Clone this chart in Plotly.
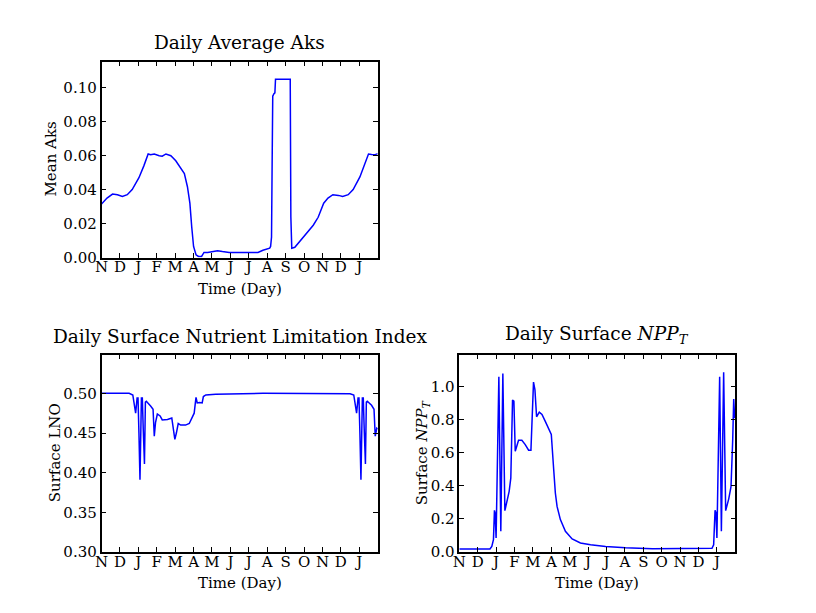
import plotly.graph_objects as go

# month tick labels, one tick every 30 days starting in November
month_labels = ["N", "D", "J", "F", "M", "A", "M", "J", "J", "A", "S", "O", "N", "D", "J"]
month_ticks = [30 * i for i in range(len(month_labels))]

# Daily Average Aks
aks_day = [0, 9, 18, 26, 34, 42, 50, 61, 69, 76, 80, 86, 94, 99, 105, 113, 121, 129,
           135, 140, 144, 147, 150, 154, 158, 163, 167, 173, 181, 189, 197, 208, 236,
           255, 263, 274, 275.5, 277, 278, 279, 281, 282.5, 283.5, 306.5, 307.5, 308.5,
           310, 315, 323, 334, 345, 353, 362, 369, 377, 386, 393, 402, 410, 421, 429,
           435, 440, 445, 450]
aks_val = [0.0315, 0.035, 0.0374, 0.037, 0.036, 0.037, 0.040, 0.047, 0.054, 0.061,
           0.0605, 0.061, 0.060, 0.0597, 0.061, 0.060, 0.057, 0.053, 0.0495, 0.0417,
           0.032, 0.018, 0.0065, 0.0016, 0.0006, 0.0006, 0.003, 0.003, 0.0037, 0.004,
           0.0035, 0.003, 0.003, 0.003, 0.0043, 0.0055, 0.0065, 0.012, 0.055, 0.095,
           0.0965, 0.097, 0.105, 0.105, 0.105, 0.024, 0.0055, 0.006, 0.0094, 0.0143,
           0.019, 0.0237, 0.032, 0.035, 0.037, 0.0366, 0.036, 0.037, 0.040, 0.0475,
           0.0554, 0.061, 0.0607, 0.0605, 0.0612]

# Daily Surface Nutrient Limitation Index
lno_day = [0, 45, 51, 54.5, 55.6, 58, 59.5, 61, 62.7, 65, 66.5, 68, 70, 71.5, 73, 80,
           84, 86, 88, 91, 95.5, 99, 107.5, 114.5, 117, 119.5, 122, 125, 129, 137, 143,
           146, 148, 151, 153, 154, 156, 160, 164, 166, 170, 186, 263, 405, 411, 414.5,
           415.6, 418, 419.5, 421, 422.7, 425, 426.5, 428, 430, 431.5, 433, 440, 444,
           446, 448.5, 450]
lno_val = [0.500, 0.500, 0.498, 0.484, 0.475, 0.494, 0.494, 0.450, 0.391, 0.494, 0.494,
           0.455, 0.411, 0.489, 0.490, 0.484, 0.480, 0.446, 0.463, 0.474, 0.4716, 0.4665,
           0.467, 0.469, 0.455, 0.442, 0.450, 0.462, 0.460, 0.460, 0.462, 0.4674, 0.471,
           0.475, 0.4886, 0.495, 0.488, 0.4886, 0.488, 0.496, 0.498, 0.499, 0.500, 0.4996,
           0.498, 0.484, 0.475, 0.494, 0.494, 0.450, 0.391, 0.494, 0.494, 0.455, 0.411,
           0.489, 0.490, 0.485, 0.480, 0.446, 0.456, 0.455]

# Daily Surface NPP_T
npp_day = [0, 50, 53, 55.7, 57.3, 58.4, 60, 64.5, 67.7, 71, 74.3, 77.6, 81.3, 84, 86.8,
           89, 91.2, 96.6, 102, 107.5, 113, 116.8, 119, 121, 123.3, 126, 130.4, 134.8,
           140.2, 145.7, 150, 153.9, 156.6, 159.4, 164.8, 173, 184, 197.5, 214, 238.5,
           271, 315, 391, 412, 414.7, 417, 418.5, 420, 424.5, 427.3, 431, 434.3, 439.2,
           443, 445.8, 447.4, 449]
npp_val = [0.018, 0.018, 0.034, 0.075, 0.252, 0.236, 0.085, 1.06, 0.125, 1.08, 0.25,
           0.307, 0.367, 0.448, 0.919, 0.913, 0.61, 0.676, 0.676, 0.65, 0.616, 0.616,
           0.882, 1.028, 0.983, 0.818, 0.846, 0.832, 0.79, 0.75, 0.711, 0.499, 0.357,
           0.276, 0.196, 0.125, 0.079, 0.0545, 0.044, 0.034, 0.026, 0.020, 0.020, 0.022,
           0.044, 0.252, 0.236, 0.085, 1.06, 0.125, 1.088, 0.25, 0.32, 0.395, 0.68,
           0.925, 0.81]

font_name = "DejaVu Serif"
blue = "#0000ff"
W, H = 816, 613
OFF = 8  # page body margin

fig = go.Figure()
fig.add_trace(go.Scatter(x=aks_day, y=aks_val, mode="lines", line=dict(color=blue, width=1.5),
                         xaxis="x", yaxis="y", showlegend=False))
fig.add_trace(go.Scatter(x=lno_day, y=lno_val, mode="lines", line=dict(color=blue, width=1.5),
                         xaxis="x2", yaxis="y2", showlegend=False))
fig.add_trace(go.Scatter(x=npp_day, y=npp_val, mode="lines", line=dict(color=blue, width=1.5),
                         xaxis="x3", yaxis="y3", showlegend=False))

def x_axis(dom, anchor):
    return dict(domain=dom, anchor=anchor, range=[0, 450], tickvals=month_ticks,
                ticktext=month_labels, ticks="inside", ticklen=5, tickcolor="black",
                showline=True, linecolor="black", linewidth=1.5, mirror="ticks",
                showgrid=False, zeroline=False, tickfont=dict(size=15), automargin=False,
                ticklabelstandoff=-5)

def y_axis(dom, anchor, rng, vals, fmt):
    return dict(domain=dom, anchor=anchor, range=rng, tickvals=vals, tickformat=fmt,
                ticks="inside", ticklen=5, tickcolor="black", showline=True,
                linecolor="black", linewidth=1.5, mirror="ticks", showgrid=False,
                zeroline=False, tickfont=dict(size=15), automargin=False)

def px_x(a, b):
    return [(a - OFF) / W, (b - OFF) / W]

def px_y(top_px, bot_px):
    return [1 - (bot_px - OFF) / H, 1 - (top_px - OFF) / H]

top = px_y(61.5, 257.5)
bot = px_y(354.5, 552)
left = px_x(101.5, 377.7)
right = px_x(459.3, 735.3)

fig.update_layout(
    width=W, height=H,
    margin=dict(l=0, r=0, t=0, b=0),
    paper_bgcolor="white", plot_bgcolor="white",
    font=dict(family=font_name, color="black", size=15),
    xaxis=x_axis(left, "y"),
    yaxis=y_axis(top, "x", [0, 0.1155], [0, 0.02, 0.04, 0.06, 0.08, 0.10], ".2f"),
    xaxis2=x_axis(left, "y2"),
    yaxis2=y_axis(bot, "x2", [0.30, 0.549], [0.30, 0.35, 0.40, 0.45, 0.50], ".2f"),
    xaxis3=x_axis(right, "y3"),
    yaxis3=y_axis(bot, "x3", [0, 1.195], [0, 0.2, 0.4, 0.6, 0.8, 1.0], ".1f"),
)

anns = [
    # titles
    dict(x=sum(left) / 2, y=top[1], text="Daily Average Aks", yanchor="bottom", yshift=6, size=18.5),
    dict(x=sum(left) / 2, y=bot[1], text="Daily Surface Nutrient Limitation Index", yanchor="bottom", yshift=6, size=18.5),
    dict(x=sum(right) / 2, y=bot[1], text="Daily Surface <i>NPP</i><sub><i>T</i></sub>", yanchor="bottom", yshift=6, size=18.5),
    # x titles
    dict(x=sum(left) / 2, y=top[0], text="Time (Day)", yanchor="top", yshift=-20, size=15),
    dict(x=sum(left) / 2, y=bot[0], text="Time (Day)", yanchor="top", yshift=-20, size=15),
    dict(x=sum(right) / 2, y=bot[0], text="Time (Day)", yanchor="top", yshift=-20, size=15),
]
for a in anns:
    fig.add_annotation(x=a["x"], y=a["y"], xref="paper", yref="paper", text=a["text"],
                       showarrow=False, xanchor="center", yanchor=a["yanchor"],
                       yshift=a["yshift"], font=dict(size=a["size"]))

# y titles
for txt, xp, yp in [("Mean Aks", 50, sum(top) / 2),
                    ("Surface LNO", 55, sum(bot) / 2),
                    ("Surface <i>NPP</i><sub><i>T</i></sub>", 422, sum(bot) / 2)]:
    fig.add_annotation(x=(xp - OFF) / W, y=yp, xref="paper", yref="paper", text=txt,
                       showarrow=False, textangle=-90, xanchor="center", yanchor="middle",
                       font=dict(size=15))

fig.write_html("out.html")
